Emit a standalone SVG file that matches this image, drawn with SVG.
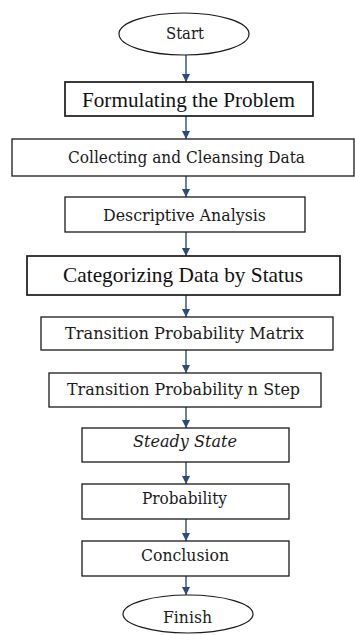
<svg xmlns="http://www.w3.org/2000/svg" width="355" height="635" viewBox="0 0 355 635">
  <defs>
    <marker id="arrow" markerUnits="userSpaceOnUse" markerWidth="10" markerHeight="9" refX="8" refY="4" orient="auto">
      <path d="M0,0 L8,4 L0,8 z" fill="#2e4a7d"/>
    </marker>
    <style>
      .box { fill: #fff; stroke: #1a1a1a; stroke-width: 1.3; }
      .box-strong { fill: #fff; stroke: #1a1a1a; stroke-width: 1.7; }
      .term { fill: #fff; stroke: #1a1a1a; stroke-width: 1.2; }
      .lbl { font-family: "DejaVu Serif", "Liberation Serif", serif; font-size: 16px; fill: #1a1a1a; text-anchor: middle; }
      .lbl-big { font-family: "Liberation Serif", "Times New Roman", serif; font-size: 22px; fill: #111; text-anchor: middle; }
      .conn line { stroke: #2e4a7d; stroke-width: 1.4; marker-end: url(#arrow); }
    </style>
  </defs>
  <rect width="355" height="635" fill="#fff"/>

  <!-- connectors -->
  <g id="connectors" class="conn">
    <line x1="186" y1="55" x2="186" y2="82"/>
    <line x1="186" y1="116" x2="186" y2="139"/>
    <line x1="186" y1="176" x2="186" y2="197"/>
    <line x1="186" y1="232" x2="186" y2="256"/>
    <line x1="186" y1="295" x2="186" y2="317"/>
    <line x1="186" y1="350" x2="186" y2="373"/>
    <line x1="186" y1="407" x2="186" y2="428"/>
    <line x1="186" y1="462" x2="186" y2="484"/>
    <line x1="186" y1="519" x2="186" y2="541"/>
    <line x1="186" y1="576" x2="186" y2="595"/>
  </g>

  <g id="start">
    <ellipse class="term" cx="184" cy="34" rx="65" ry="21"/>
    <text class="lbl" x="185" y="39" textLength="38" lengthAdjust="spacingAndGlyphs">Start</text>
  </g>

  <g id="formulating">
    <rect class="box-strong" x="65" y="82" width="248" height="34"/>
    <text class="lbl-big" x="188.5" y="107" textLength="213" lengthAdjust="spacingAndGlyphs">Formulating the Problem</text>
  </g>

  <g id="collecting">
    <rect class="box" x="12" y="139" width="342" height="37"/>
    <text class="lbl" x="186.5" y="163" textLength="237" lengthAdjust="spacingAndGlyphs">Collecting and Cleansing Data</text>
  </g>

  <g id="descriptive">
    <rect class="box" x="65" y="197" width="240" height="35"/>
    <text class="lbl" x="184.5" y="220.5" textLength="163" lengthAdjust="spacingAndGlyphs">Descriptive Analysis</text>
  </g>

  <g id="categorizing">
    <rect class="box-strong" x="27" y="256" width="313" height="39"/>
    <text class="lbl-big" x="183" y="282" textLength="240" lengthAdjust="spacingAndGlyphs">Categorizing Data by Status</text>
  </g>

  <g id="matrix">
    <rect class="box" x="41" y="317" width="292" height="33"/>
    <text class="lbl" x="184.5" y="338.5" textLength="239" lengthAdjust="spacingAndGlyphs">Transition Probability Matrix</text>
  </g>

  <g id="n-step">
    <rect class="box" x="49" y="373" width="272" height="34"/>
    <text class="lbl" x="183.5" y="395" textLength="233" lengthAdjust="spacingAndGlyphs">Transition Probability n Step</text>
  </g>

  <g id="steady-state">
    <rect class="box" x="82" y="428" width="207" height="34"/>
    <text class="lbl" x="185" y="447" font-style="italic" textLength="104" lengthAdjust="spacingAndGlyphs">Steady State</text>
  </g>

  <g id="probability">
    <rect class="box" x="82" y="484" width="207" height="35"/>
    <text class="lbl" x="184.5" y="504" textLength="85" lengthAdjust="spacingAndGlyphs">Probability</text>
  </g>

  <g id="conclusion">
    <rect class="box" x="82" y="541" width="207" height="35"/>
    <text class="lbl" x="185" y="561" textLength="88" lengthAdjust="spacingAndGlyphs">Conclusion</text>
  </g>

  <g id="finish">
    <ellipse class="term" cx="188" cy="614" rx="65" ry="19"/>
    <text class="lbl" x="187.5" y="623" textLength="49" lengthAdjust="spacingAndGlyphs">Finish</text>
  </g>
</svg>
